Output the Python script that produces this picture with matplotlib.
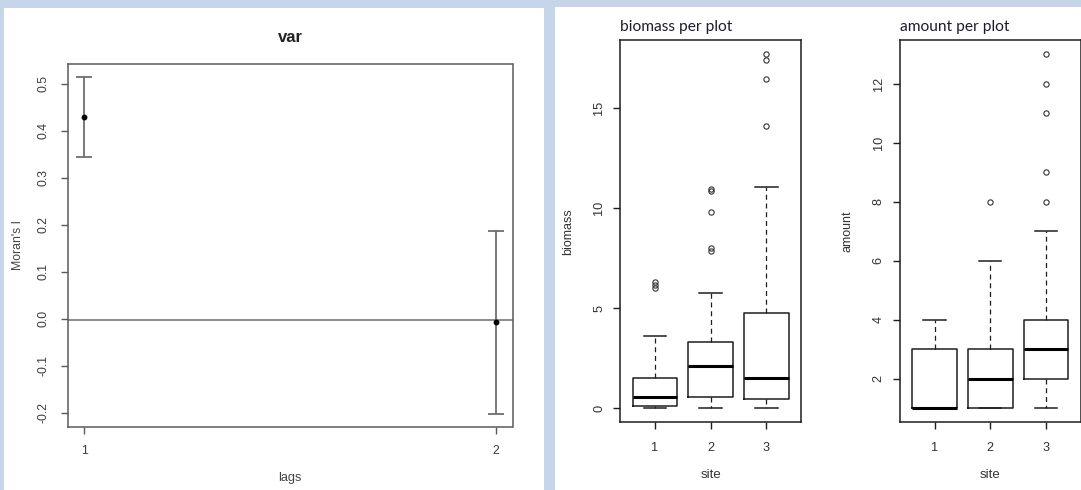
import matplotlib
matplotlib.use("Agg")
import matplotlib.pyplot as plt
from matplotlib.patches import Rectangle

# ---------------- data ----------------
lags = [1, 2]
moran_i = [0.429, -0.007]
moran_lo = [0.344, -0.2015]
moran_hi = [0.513, 0.187]
expected_i = -0.003
moran_yticks = [-0.2, -0.1, 0.0, 0.1, 0.2, 0.3, 0.4, 0.5]

sites = [1, 2, 3]
# biomass per plot: whisker low, q1, median, q3, whisker high, outliers
bio_whislo = [0.0, 0.0, 0.03]
bio_q1 = [0.1, 0.55, 0.45]
bio_med = [0.55, 2.08, 1.5]
bio_q3 = [1.52, 3.28, 4.75]
bio_whishi = [3.6, 5.73, 11.03]
bio_fliers = [[6.0, 6.15, 6.3], [7.85, 8.0, 9.78, 10.85, 10.95], [14.07, 16.45, 17.4, 17.67]]
bio_yticks = [0, 5, 10, 15]

# amount per plot
amt_whislo = [1, 1, 1]
amt_q1 = [1, 1, 2]
amt_med = [1, 2, 3]
amt_q3 = [3, 3, 4]
amt_whishi = [4, 6, 7]
amt_fliers = [[], [8], [8, 9, 11, 12, 13]]
amt_yticks = [2, 4, 6, 8, 10, 12]

# ---------------- layout helpers ----------------
W, H = 1081, 490
fig = plt.figure(figsize=(W / 100, H / 100), dpi=100)
fig.patch.set_facecolor("#c6d5ea")


def fbox(x0, y0, x1, y1):
    return [x0 / W, 1 - y1 / H, (x1 - x0) / W, (y1 - y0) / H]


fig.patches.append(Rectangle((4 / W, 0), (544 - 4) / W, 1 - 8 / H, transform=fig.transFigure,
                             facecolor="white", edgecolor="none", zorder=-10))
fig.patches.append(Rectangle((555 / W, 0), (1081 - 555) / W, 1 - 7 / H, transform=fig.transFigure,
                             facecolor="white", edgecolor="none", zorder=-10))

RFONT = ["Liberation Sans", "DejaVu Sans"]

# ---------------- left: correlogram ----------------
gcol = "#5a5a5a"
ax = fig.add_axes(fbox(67.8, 64, 512.5, 427))
ax.set_facecolor("white")
ax.axhline(expected_i, color="#8c8c8c", lw=1.4, zorder=1)
yerr = [[m - l for m, l in zip(moran_i, moran_lo)], [h - m for m, h in zip(moran_i, moran_hi)]]
ax.errorbar(lags, moran_i, yerr=yerr, fmt="o", color="black", ms=3.2,
            ecolor="#6e6e6e", elinewidth=1.3, capsize=5.6, capthick=1.3, zorder=3)
lo = min(moran_lo); hi = max(moran_hi); r = hi - lo
ax.set_ylim(lo - 0.04 * r, hi + 0.04 * r)
ax.set_xlim(0.96, 2.04)
ax.set_xticks(lags)
ax.set_xticklabels([str(v) for v in lags])
ax.set_yticks(moran_yticks)
ax.set_yticklabels([f"{v:.1f}" for v in moran_yticks], rotation=90, va="center")
for s in ax.spines.values():
    s.set_color(gcol)
    s.set_linewidth(1.1)
ax.tick_params(axis="both", colors=gcol, labelcolor="#3c3c3c", length=4.8, width=1.0,
               labelsize=8.8)
ax.tick_params(axis="y", pad=8.5)
ax.tick_params(axis="x", pad=8)
for t in ax.get_xticklabels() + ax.get_yticklabels():
    t.set_family(RFONT)
ax.set_xlabel("lags", family=RFONT, fontsize=9.2, color="#444444", va="center")
ax.xaxis.set_label_coords(0.5, -0.1405)
ax.set_ylabel("Moran's I", family=RFONT, fontsize=8.8, color="#444444", va="center")
ax.yaxis.set_label_coords(-0.111, 0.5)
ax.set_title("var", family=RFONT, fontsize=12, fontweight="bold", color="#222222",
             y=(427 - 37) / 363, va="center", pad=0)

# ---------------- right: boxplots ----------------
bcol = "#1e1e1e"


def make_stats(wl, q1, med, q3, wh, fl):
    return [dict(whislo=a, q1=b, med=c, q3=d, whishi=e, fliers=f)
            for a, b, c, d, e, f in zip(wl, q1, med, q3, wh, fl)]


def draw_box(box, stats, ylim, yticks, ylabel, title, ylab_x):
    axb = fig.add_axes(box)
    axb.set_facecolor("white")
    axb.bxp(stats, positions=sites, widths=0.8, capwidths=0.4, patch_artist=False,
            boxprops=dict(color=bcol, lw=1.1),
            medianprops=dict(color="black", lw=2.2),
            whiskerprops=dict(color=bcol, lw=0.9, linestyle=(0, (4, 3))),
            capprops=dict(color=bcol, lw=1.1),
            flierprops=dict(marker="o", markerfacecolor="none", markeredgecolor="#333333",
                            markersize=3.8, markeredgewidth=0.8))
    axb.set_xlim(0.38, 3.62)
    axb.set_ylim(*ylim)
    axb.set_xticks(sites)
    axb.set_xticklabels([str(s) for s in sites])
    axb.set_yticks(yticks)
    axb.set_yticklabels([str(v) for v in yticks], rotation=90, va="center")
    for s in axb.spines.values():
        s.set_color(bcol)
        s.set_linewidth(1.1)
    axb.tick_params(axis="both", colors=bcol, labelcolor="#333333", length=5, width=1.0,
                    labelsize=9.2)
    axb.tick_params(axis="y", pad=6)
    axb.tick_params(axis="x", pad=9)
    for t in axb.get_xticklabels() + axb.get_yticklabels():
        t.set_family(RFONT)
    axb.set_xlabel("site", family=RFONT, fontsize=9.5, color="#333333", va="center")
    axb.xaxis.set_label_coords(0.5, -0.138)
    axb.set_ylabel(ylabel, family=RFONT, fontsize=9, color="#333333", va="center")
    axb.yaxis.set_label_coords(ylab_x, 0.5)
    axb.set_title(title, loc="left", family=["Lato", "DejaVu Sans"], fontsize=11.2,
                  color="#1c1c2c", y=(422.3 - 27.3) / 382.3, va="center", pad=0)
    return axb


bio_stats = make_stats(bio_whislo, bio_q1, bio_med, bio_q3, bio_whishi, bio_fliers)
bmin = min(bio_whislo); bmax = max(max(f) for f in bio_fliers if f); br = bmax - bmin
draw_box(fbox(620.3, 40, 801, 422.3), bio_stats, (bmin - 0.04 * br, bmax + 0.04 * br),
         bio_yticks, "biomass", "biomass per plot", -0.287)

amt_stats = make_stats(amt_whislo, amt_q1, amt_med, amt_q3, amt_whishi, amt_fliers)
amin = min(amt_whislo); amax = max(max(f) for f in amt_fliers if f); ar = amax - amin
draw_box(fbox(900, 40, 1080.5, 422.3), amt_stats, (amin - 0.04 * ar, amax + 0.04 * ar),
         amt_yticks, "amount", "amount per plot", -0.29)

fig.savefig("out.png", dpi=100, facecolor=fig.get_facecolor())
